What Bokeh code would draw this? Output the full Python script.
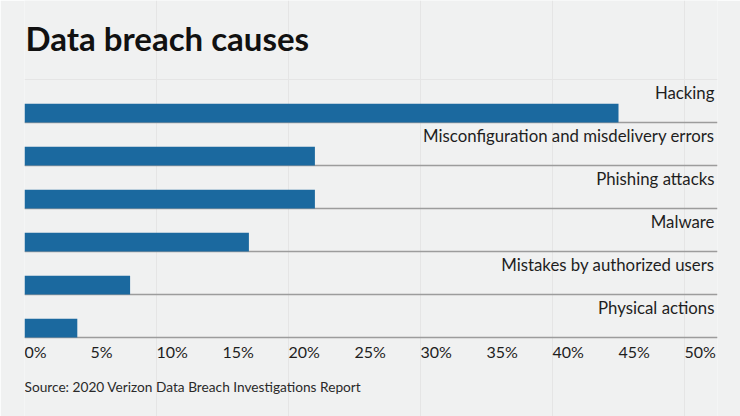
from bokeh.plotting import figure
from bokeh.models import ColumnDataSource, Range1d, Grid, FixedTicker
from bokeh.core.properties import value
from bokeh.embed import file_html
from bokeh.resources import INLINE

# data, top to bottom as in the chart
causes = [
    "Hacking",
    "Misconfiguration and misdelivery errors",
    "Phishing attacks",
    "Malware",
    "Mistakes by authorized users",
    "Physical actions",
]
shares = [45, 22, 22, 17, 8, 4]
ticks = [0, 5, 10, 15, 20, 25, 30, 35, 40, 45, 50]
tick_labels = ["%d%%" % t for t in ticks]

title_text = "Data breach causes"
source_text = "Source: 2020 Verizon Data Breach Investigations Report"

BG = "#f0f1f1"
BAR = "#1b699f"
RULE = "#9c9c9c"
FONT = "Lato"

ROW = 43.0  # px per row
PX = 13.2   # px per percent
BASE = 337  # px from top of the lowest rule
LIFT = 0.38  # text sits this many em lower than asked, so lift it

n = len(causes)
rows = [n - 1 - i for i in range(n)]  # Hacking on top
bar_h = 18.7 / ROW

LAB_FS, TICK_FS, TITLE_FS, SRC_FS = 16.8, 16.0, 33.0, 13.7

src = ColumnDataSource(dict(
    cause=causes,
    share=shares,
    row=rows,
    ybar=[r + bar_h / 2 for r in rows],
    ylab=[r + (23.3 + LIFT * LAB_FS) / ROW for r in rows],
))

W, H = 740, 416
p = figure(width=W, height=H, output_backend="svg", toolbar_location=None,
           x_axis_location=None, y_axis_location=None,
           min_border_left=24, min_border_right=23, min_border_top=0, min_border_bottom=0,
           x_range=Range1d(0, 693 / PX),
           y_range=Range1d(-(H - BASE) / ROW, BASE / ROW))
p.background_fill_color = BG
p.border_fill_color = BG
p.outline_line_color = None

# separator rules under each row
p.add_layout(Grid(dimension=1, ticker=FixedTicker(ticks=list(range(n))),
                  grid_line_color=RULE, grid_line_width=1.3))

p.hbar(y="ybar", left=0, right="share", height=bar_h, source=src,
       fill_color=BAR, line_color=None)

p.text(x=52.27, y="ylab", text="cause", source=src, text_align="right",
       text_baseline="alphabetic", text_font=value(FONT), text_font_size="%spx" % LAB_FS,
       text_color="#1e1e1e")

# x tick labels, left aligned at the tick value
p.text(x=ticks, y=[(-19.7 + LIFT * TICK_FS) / ROW] * len(ticks), text=tick_labels,
       text_align="left", text_baseline="alphabetic", text_font=value(FONT),
       text_font_size="%spx" % TICK_FS, text_color="#1e1e1e")

p.text(x=[1 / PX], y=[(BASE - 50 + LIFT * TITLE_FS) / ROW], text=[title_text],
       text_align="left", text_baseline="alphabetic", text_font=value(FONT),
       text_font_style="bold", text_font_size="%spx" % TITLE_FS, text_color="#111111")

p.text(x=[0], y=[(-54.7 + LIFT * SRC_FS) / ROW], text=[source_text], text_align="left",
       text_baseline="alphabetic", text_font=value(FONT), text_font_size="%spx" % SRC_FS,
       text_color="#2a2a2a")

open("out.html", "w").write(file_html(p, INLINE))
